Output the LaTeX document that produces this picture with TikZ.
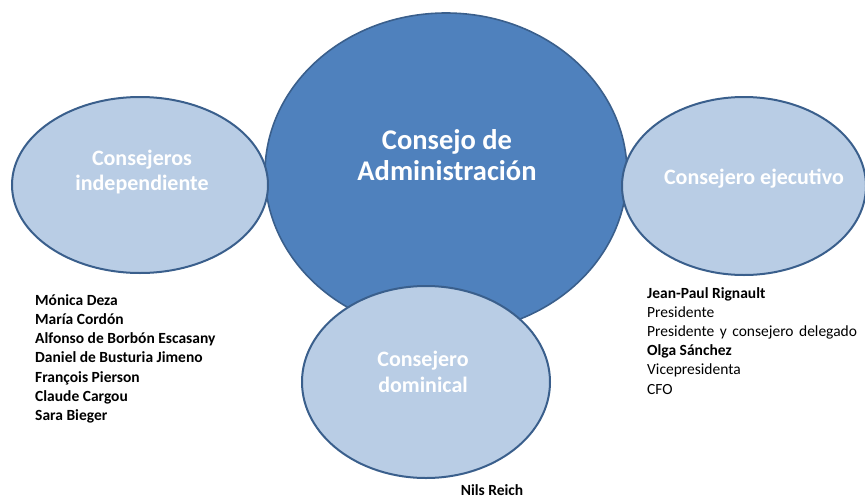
\documentclass[tikz,border=0pt]{standalone}
\usepackage{fontspec}
\setmainfont{Carlito}
\usetikzlibrary{shapes.geometric}
\definecolor{dark}{HTML}{4F81BD}
\definecolor{light}{HTML}{B9CDE5}
\definecolor{edge}{HTML}{3A5F8C}
\tikzset{
  bigell/.style={ellipse,draw=edge,line width=1.6pt,fill=dark,inner sep=0pt},
  smallell/.style={ellipse,draw=edge,line width=2pt,fill=light,inner sep=0pt},
  elltext/.style={text=white,font=\bfseries\fontsize{22}{25.5}\selectfont,align=center,inner sep=0pt},
  bigtext/.style={text=white,font=\bfseries\fontsize{28.5}{31}\selectfont,align=center,inner sep=0pt},
  listtext/.style={font=\fontsize{15.5}{19.2}\selectfont,align=left,inner sep=0pt,anchor=north west}
}
\begin{document}
\begin{tikzpicture}[x=1pt,y=-1pt]
\useasboundingbox (0,0) rectangle (865,498);
\node[bigell,minimum width=362pt,minimum height=320pt] (cda) at (446,173) {};
\node[smallell,minimum width=256pt,minimum height=176pt] (ind) at (140,185) {};
\node[smallell,minimum width=244pt,minimum height=178pt] (eje) at (744,186) {};
\node[smallell,minimum width=248pt,minimum height=192pt] (dom) at (426,382) {};
\node[bigtext] (tcda) at (447,155) {Consejo de\\Administración};
\node[elltext] (tind) at (142,172) {Consejeros\\independiente};
\node[elltext] (teje) at (754,179) {Consejero ejecutivo};
\node[elltext] (tdom) at (423,372) {Consejero\\dominical};
\node[listtext,font=\bfseries\fontsize{15.5}{19.3}\selectfont] (lind) at (35,294) {Mónica Deza\\María Cordón\\Alfonso de Borbón Escasany\\Daniel de Busturia Jimeno\\François Pierson\\Claude Cargou\\Sara Bieger};
\node[listtext] (leje) at (647,287) {\textbf{Jean-Paul Rignault}\\Presidente\\Presidente\hspace{5.5pt}y\hspace{5.5pt}consejero\hspace{5.5pt}delegado\\\textbf{Olga Sánchez}\\Vicepresidenta\\CFO};
\node[font=\bfseries\fontsize{15.5}{18}\selectfont,inner sep=0pt] (ldom) at (492,490) {Nils Reich};
\end{tikzpicture}
\end{document}
